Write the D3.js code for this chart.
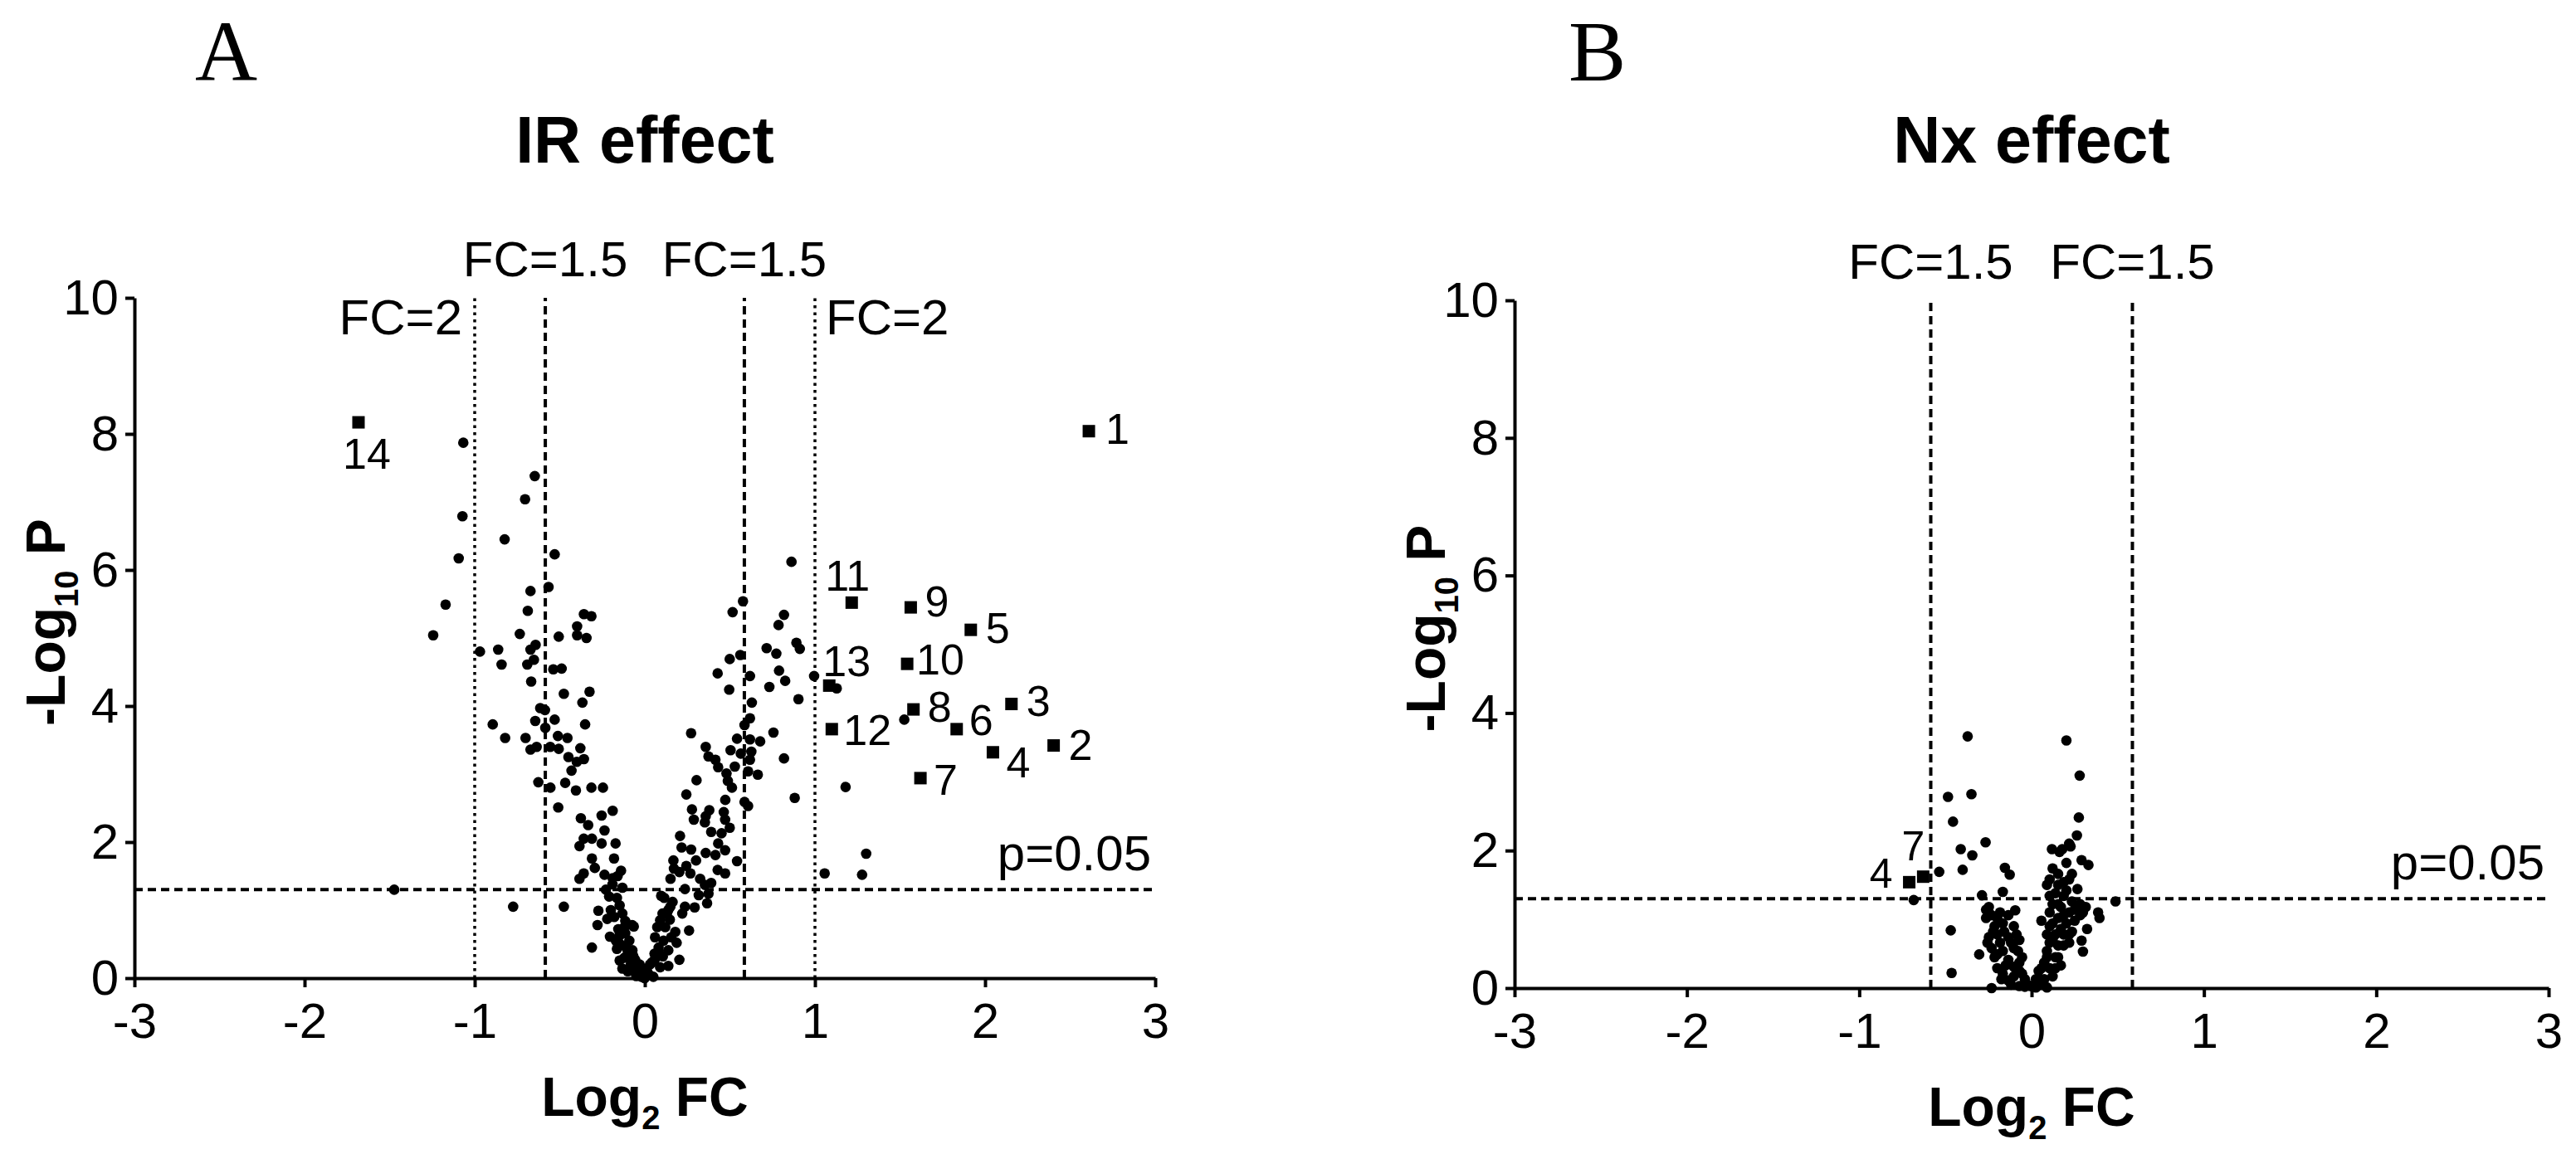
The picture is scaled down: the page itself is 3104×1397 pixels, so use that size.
<!DOCTYPE html>
<html>
<head>
<meta charset="utf-8">
<script src="https://cdn.jsdelivr.net/npm/d3@7"></script>
<style>
  body { margin: 0; background: #fff; }
  text { font-family: "Liberation Sans", Arial, sans-serif; fill: #000; }
</style>
</head>
<body>
<div id="chart"></div>
<script>
// ---- data ----
const xTicks = [-3, -2, -1, 0, 1, 2, 3];
const yTicks = [0, 2, 4, 6, 8, 10];
const pCut = 1.301;      // -log10(0.05)
const fc15 = 0.585;      // log2(1.5)
const fc2 = 1;           // log2(2)

// IR effect: [log2 FC, -log10 P]
const irDots = [
  [-1.067,7.87],[-0.647,7.38],[-0.704,7.04],[-1.072,6.79],[-0.824,6.45],[-0.530,6.23],[-1.094,6.17],
  [-0.566,5.75],[-0.672,5.69],[-0.688,5.40],[-1.171,5.49],[-1.244,5.04],[-0.358,5.35],[-0.314,5.32],
  [-0.398,5.17],[-0.398,5.04],[-0.343,5.00],[-0.506,5.02],[-0.735,5.06],[-0.969,4.80],[-0.862,4.83],
  [-0.842,4.61],[-0.642,4.90],[-0.672,4.83],[-0.652,4.68],[-0.691,4.61],[-0.538,4.54],[-0.489,4.55],
  [-0.668,4.36],[-0.476,4.18],[-0.325,4.21],[-0.367,4.05],[-0.615,3.97],[-0.587,3.94],[-0.644,3.78],
  [-0.530,3.80],[-0.585,3.68],[-0.351,3.73],[-0.894,3.73],[-0.821,3.53],[-0.701,3.53],[-0.511,3.56],
  [-0.455,3.53],[-0.636,3.40],[-0.672,3.36],[-0.556,3.40],[-0.506,3.37],[-0.379,3.38],[-0.449,3.25],
  [-0.400,3.18],[-0.358,3.22],[-0.431,3.05],[-0.626,2.88],[-0.555,2.80],[-0.468,2.87],[-0.405,2.76],
  [-0.314,2.80],[-0.246,2.80],[-0.509,2.51],[-0.376,2.35],[-0.333,2.25],[-0.254,2.39],[-0.189,2.46],
  [-0.237,2.17],[-0.359,2.05],[-0.311,2.05],[-0.384,1.94],[-0.254,1.98],[-0.172,1.98],[-0.311,1.76],
  [-0.181,1.76],[-0.294,1.62],[-0.359,1.54],[-0.384,1.46],[-0.237,1.52],[-0.140,1.58],[-0.189,1.47],
  [-1.473,1.30],[-0.774,1.05],[-0.476,1.05],[-0.229,1.30],[-0.132,1.33],[-0.273,0.99],[-0.278,0.78],
  [-0.221,0.87],[-0.205,0.61],[-0.311,0.45],[-0.075,0.78],
  [-0.164,1.18],[-0.148,1.07],[-0.132,0.95],[-0.156,0.72],[-0.115,0.66],[-0.140,0.49],[-0.099,0.38],
  [-0.148,0.26],[-0.083,0.20],[-0.050,0.14],[-0.018,0.06],[0.015,0.09],[-0.115,0.84],[-0.164,0.43],
  [-0.132,0.14],[-0.067,0.32],[-0.091,0.55],[-0.050,0.03],[-0.001,0.00],
  [-0.180,0.90],[-0.120,0.75],[-0.170,0.55],[-0.110,0.45],[-0.080,0.30],[-0.120,0.30],[-0.060,0.10],
  [-0.030,0.20],[0.000,0.12],[0.030,0.20],[0.060,0.28],[0.080,0.40],[0.110,0.55],[0.120,0.75],
  [0.090,0.85],[0.060,0.60],[-0.200,1.00],[-0.150,0.62],[0.130,0.95],[0.150,1.05],[-0.100,0.10],
  [0.050,0.02],[-0.020,0.02],[-0.210,1.20],[-0.190,1.38],[-0.160,1.50],
  [0.862,6.12],[0.577,5.54],[0.516,5.38],[0.818,5.34],[0.786,5.19],[0.891,4.93],[0.911,4.84],
  [0.716,4.85],[0.773,4.77],[0.561,4.75],[0.499,4.69],[0.428,4.48],[0.789,4.52],[0.618,4.44],
  [0.825,4.37],[0.732,4.28],[0.496,4.24],[0.995,4.44],[0.903,4.10],[0.629,4.05],[0.618,3.82],
  [0.586,3.72],[0.272,3.60],[0.756,3.61],[0.542,3.52],[0.618,3.51],[0.678,3.48],[0.358,3.40],
  [0.504,3.35],[0.564,3.30],[0.626,3.33],[0.374,3.26],[0.415,3.21],[0.618,3.21],[0.818,3.23],
  [0.431,3.10],[0.529,3.11],[0.480,3.01],[0.607,3.04],[0.664,2.99],[0.304,2.91],[0.488,2.90],
  [0.512,2.80],[0.244,2.70],[0.881,2.65],[0.473,2.62],[0.586,2.59],[0.607,2.53],[1.180,2.81],
  [0.277,2.48],[0.379,2.47],[0.358,2.38],[0.464,2.44],[0.472,2.33],[0.288,2.33],[0.353,2.29],
  [0.499,2.21],[0.390,2.15],[0.451,2.13],[0.207,2.09],[0.431,1.98],[0.216,1.92],[0.272,1.89],
  [0.472,1.88],[0.358,1.84],[0.415,1.81],[0.542,1.72],[0.301,1.73],[0.168,1.73],[1.301,1.83],
  [0.244,1.65],[0.171,1.61],[0.203,1.56],[0.428,1.59],[0.472,1.54],[0.268,1.54],[1.057,1.54],
  [1.277,1.52],[0.151,1.46],[0.325,1.46],[0.390,1.40],[0.353,1.37],[0.236,1.31],[0.374,1.24],
  [0.317,1.22],[0.114,1.18],[0.163,1.12],[0.366,1.10],[0.293,1.04],[0.236,1.05],[0.138,1.00],
  [0.220,0.95],[0.147,0.86],[-0.065,0.76],[0.073,0.75],[0.260,0.70],[0.179,0.68],[0.155,0.60],
  [0.187,0.52],[0.081,0.45],[0.138,0.41],[0.203,0.27],[0.106,0.32],[0.041,0.23],[0.090,0.16],
  [-0.008,0.09],[-0.041,0.18],[0.025,0.05],[0.138,0.18],[0.057,0.36],[-0.073,0.41],[-0.057,0.27],
  [1.128,4.26],[1.525,3.80],[0.096,1.21],[0.104,0.95]
];
const irHits = [
  { id: "1", x: 2.610, y: 8.04 }, { id: "2", x: 2.403, y: 3.42 }, { id: "3", x: 2.155, y: 4.03 },
  { id: "4", x: 2.046, y: 3.32 }, { id: "5", x: 1.916, y: 5.12 }, { id: "6", x: 1.833, y: 3.66 },
  { id: "7", x: 1.620, y: 2.94 }, { id: "8", x: 1.579, y: 3.95 }, { id: "9", x: 1.563, y: 5.45 },
  { id: "10", x: 1.542, y: 4.62 }, { id: "11", x: 1.216, y: 5.52 }, { id: "12", x: 1.099, y: 3.66 },
  { id: "13", x: 1.084, y: 4.30 }, { id: "14", x: -1.683, y: 8.17 }
];

// Nx effect
const nxDots = [
  [-0.371,3.66],[0.202,3.60],[0.279,3.09],[-0.485,2.78],[-0.349,2.82],[-0.456,2.42],[0.274,2.48],
  [0.263,2.22],[-0.267,2.12],[-0.411,2.02],[-0.344,1.93],[-0.400,1.72],[-0.536,1.69],[0.118,2.02],
  [0.178,2.02],[0.226,2.06],[0.290,1.86],[0.330,1.79],[-0.155,1.75],[-0.127,1.65],[-0.684,1.28],
  [-0.288,1.35],[-0.167,1.40],[0.487,1.26],[0.386,1.10],[0.394,1.02],[-0.095,1.13],[-0.469,0.84],
  [-0.304,0.49],[-0.464,0.22],[-0.232,0.00],[0.322,0.86],[0.290,0.69],[0.298,0.53],[0.266,1.44],
  [0.057,0.98],[0.162,1.98],[0.218,2.10],
  [-0.248,1.18],[-0.232,1.06],[-0.264,1.02],[-0.183,1.10],[-0.135,1.06],[-0.215,0.90],[-0.167,0.94],
  [-0.103,0.90],[-0.248,0.74],[-0.199,0.78],[-0.135,0.74],[-0.071,0.70],[-0.232,0.58],[-0.167,0.54],
  [-0.103,0.58],[-0.215,0.45],[-0.135,0.41],[-0.071,0.37],[-0.167,0.21],[-0.103,0.17],[-0.039,0.13],
  [-0.071,0.25],[-0.023,0.05],[0.009,0.02],[-0.135,0.11],[-0.175,0.13],
  [-0.264,1.14],[-0.199,1.02],[-0.159,0.82],[-0.223,0.82],[-0.256,0.66],[-0.183,0.66],[-0.119,0.66],
  [-0.079,0.54],[-0.199,0.49],[-0.151,0.33],[-0.103,0.31],[-0.199,0.29],[-0.055,0.21],[-0.119,0.05],
  [-0.071,0.03],[-0.039,0.02],[-0.087,0.78],[-0.055,0.45],
  [0.122,1.74],[0.154,1.66],[0.105,1.58],[0.186,1.54],[0.234,1.66],[0.202,1.42],[0.138,1.38],
  [0.122,1.22],[0.170,1.18],[0.234,1.26],[0.282,1.22],[0.314,1.18],[0.218,1.10],[0.154,1.02],
  [0.105,0.90],[0.202,0.94],[0.250,0.98],[0.282,1.06],[0.138,0.78],[0.186,0.78],[0.234,0.82],
  [0.105,0.66],[0.154,0.62],[0.218,0.66],[0.089,0.54],[0.138,0.45],[0.170,0.33],[0.073,0.37],
  [0.041,0.25],[0.025,0.13],[0.057,0.05],[0.105,0.29],[0.122,0.17],[-0.007,0.03],[0.073,0.13],
  [0.089,1.50],[0.154,1.50],[0.218,1.58],[0.186,1.34],[0.105,1.10],[0.250,1.14],[0.298,1.10],
  [0.186,1.06],[0.122,0.94],[0.170,0.86],[0.089,0.78],[0.218,0.78],[0.122,0.70],[0.186,0.62],
  [0.089,0.45],[0.154,0.45],[0.057,0.29],[0.138,0.29],[0.041,0.13],[0.089,0.01],[0.025,0.01],
  [0.105,1.34],[0.154,1.22],[0.202,1.82]
];
const nxHits = [
  { id: "4", x: -0.710, y: 1.54 }, { id: "7", x: -0.629, y: 1.62 }
];

// ---- layout ----
const W = 3104, H = 1397;
const fontSans = "'Liberation Sans', Arial, sans-serif";

// label offsets (px from square centre): [dx, dy, anchor]
const irLabelPos = {
  "1": [20, 15, "start"], "2": [18, 17, "start"], "3": [18, 14, "start"], "4": [16, 30, "start"],
  "5": [18, 16, "start"], "6": [15, 7, "start"], "7": [16, 20, "start"], "8": [17, 15, "start"],
  "9": [17, 11, "start"], "10": [11, 13, "start"], "11": [-5, -14, "middle"], "12": [14, 19, "start"],
  "13": [-8, -11, "start"], "14": [10, 56, "middle"]
};
const nxLabelPos = { "4": [-20, 7, "end"], "7": [2, -20, "end"] };

const svg = d3.select("#chart").append("svg")
  .attr("width", W).attr("height", H)
  .attr("viewBox", `0 0 ${W} ${H}`);
svg.append("rect").attr("width", W).attr("height", H).attr("fill", "#fff");

function drawPanel(opt) {
  const x = d3.scaleLinear().domain([-3, 3]).range([opt.left, opt.right]);
  const y = d3.scaleLinear().domain([0, 10]).range([opt.bottom, opt.top]);
  const g = svg.append("g");

  // panel letter
  g.append("text")
    .attr("x", opt.letterX).attr("y", 97)
    .style("font-family", "'Liberation Serif', 'Times New Roman', serif")
    .attr("font-size", 104)
    .text(opt.letter);

  // title
  g.append("text")
    .attr("x", (opt.left + opt.right) / 2).attr("y", 196)
    .attr("text-anchor", "middle")
    .attr("font-size", 79).attr("font-weight", "bold")
    .text(opt.title);

  // reference lines
  g.append("line")
    .attr("x1", x(-3)).attr("x2", x(3))
    .attr("y1", y(pCut)).attr("y2", y(pCut))
    .attr("stroke", "#000").attr("stroke-width", 4)
    .attr("stroke-dasharray", "10,6");

  const vlines = opt.fcLines;
  g.selectAll(".vline").data(vlines).enter().append("line")
    .attr("class", "vline")
    .attr("x1", d => x(d.v)).attr("x2", d => x(d.v))
    .attr("y1", y(0)).attr("y2", y(10))
    .attr("stroke", "#000")
    .attr("stroke-width", d => d.dotted ? 3.5 : 4)
    .attr("stroke-dasharray", d => d.dotted ? "3.5,5" : "10,6");

  // line labels
  g.selectAll(".vlab").data(vlines).enter().append("text")
    .attr("class", "vlab")
    .attr("font-size", 60)
    .attr("x", d => d.dotted ? x(d.v) + (d.v < 0 ? -15 : 13) : x(d.v))
    .attr("y", d => d.dotted ? opt.top + 44 : opt.top - 26)
    .attr("text-anchor", d => d.dotted ? (d.v < 0 ? "end" : "start") : "middle")
    .text(d => d.label);

  g.append("text")
    .attr("x", opt.right - 5).attr("y", y(pCut) - 23)
    .attr("text-anchor", "end").attr("font-size", 60)
    .text("p=0.05");

  // axes
  const xAxis = g.append("g")
    .attr("transform", `translate(0,${opt.bottom})`)
    .call(d3.axisBottom(x).tickValues(xTicks).tickFormat(d => String(d))
      .tickSize(11).tickSizeOuter(0).tickPadding(18));
  const yAxis = g.append("g")
    .attr("transform", `translate(${opt.left},0)`)
    .call(d3.axisLeft(y).tickValues(yTicks).tickFormat(d => String(d))
      .tickSize(11).tickSizeOuter(0).tickPadding(8));
  [xAxis, yAxis].forEach(a => {
    a.attr("font-size", 60).attr("font-family", fontSans);
    a.selectAll("path, line").attr("stroke", "#000").attr("stroke-width", 4);
    a.selectAll("text").attr("fill", "#000");
  });

  // axis titles
  const xt = g.append("text")
    .attr("x", (opt.left + opt.right) / 2).attr("y", opt.bottom + 166)
    .attr("text-anchor", "middle").attr("font-size", 66).attr("font-weight", "bold");
  xt.append("tspan").text("Log");
  xt.append("tspan").attr("font-size", 40).attr("dy", 16).text("2");
  xt.append("tspan").attr("dy", -16).text(" FC");

  const yt = g.append("text")
    .attr("transform", `translate(${opt.left - 84},${(opt.top + opt.bottom) / 2 - 19}) rotate(-90)`)
    .attr("text-anchor", "middle").attr("font-size", 66).attr("font-weight", "bold");
  yt.append("tspan").text("-Log");
  yt.append("tspan").attr("font-size", 40).attr("dy", 16).text("10");
  yt.append("tspan").attr("dy", -16).text(" P");

  // points
  g.append("g").selectAll("circle").data(opt.dots).enter().append("circle")
    .attr("cx", d => x(d[0])).attr("cy", d => y(d[1]))
    .attr("r", 6.3).attr("fill", "#000");

  const sq = 15;
  g.append("g").selectAll("rect").data(opt.hits).enter().append("rect")
    .attr("x", d => x(d.x) - sq / 2).attr("y", d => y(d.y) - sq / 2)
    .attr("width", sq).attr("height", sq).attr("fill", "#000");

  g.append("g").selectAll("text").data(opt.hits).enter().append("text")
    .attr("x", d => x(d.x) + opt.labelPos[d.id][0])
    .attr("y", d => y(d.y) + opt.labelPos[d.id][1])
    .attr("text-anchor", d => opt.labelPos[d.id][2])
    .attr("font-size", opt.labelSize)
    .text(d => d.id);
}

drawPanel({
  letter: "A", letterX: 235, title: "IR effect",
  left: 162, right: 1392, top: 359, bottom: 1179,
  fcLines: [
    { v: -fc2, label: "FC=2", dotted: true }, { v: -fc15, label: "FC=1.5", dotted: false },
    { v: fc15, label: "FC=1.5", dotted: false }, { v: fc2, label: "FC=2", dotted: true }
  ],
  dots: irDots, hits: irHits, labelPos: irLabelPos, labelSize: 52
});

drawPanel({
  letter: "B", letterX: 1890, title: "Nx effect",
  left: 1825, right: 3071, top: 362, bottom: 1191,
  fcLines: [
    { v: -fc15, label: "FC=1.5", dotted: false }, { v: fc15, label: "FC=1.5", dotted: false }
  ],
  dots: nxDots, hits: nxHits, labelPos: nxLabelPos, labelSize: 50
});
</script>
</body>
</html>
